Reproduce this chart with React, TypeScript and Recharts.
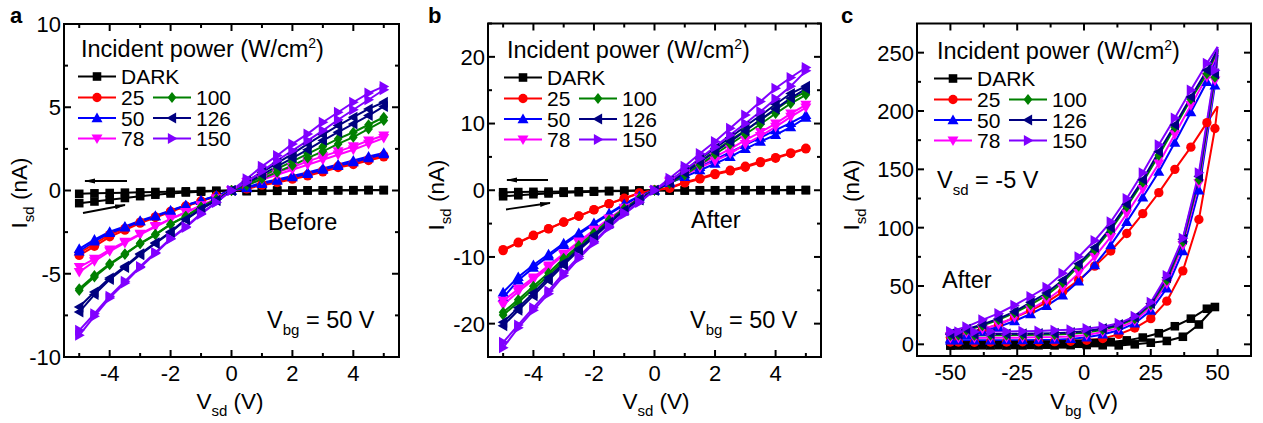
import React from "react";
import { LineChart, Line, XAxis, YAxis, ReferenceArea, Legend } from "recharts";

const FONT = "'Liberation Sans', Arial, Helvetica, sans-serif";
const H = 423;

// series: DARK and incident power (W/cm2)
const SERIES = ["DARK", "25", "50", "78", "100", "126", "150"];
const COLORS = ["#000000", "#ff0000", "#0000ff", "#ff00ff", "#008000", "#000080", "#8000ff"];
const SHAPES = ["square", "circle", "up", "down", "diamond", "left", "right"];

// panel a / b: sweep of Vsd (V)
const VSD = [-5, -4.5, -4, -3.5, -3, -2.5, -2, -1.5, -1, -0.5, 0, 0.5, 1, 1.5, 2, 2.5, 3, 3.5, 4, 4.5, 5];

// panel a, Isd (nA), before
const A_FWD = [
  [-0.76, -0.66, -0.56, -0.45, -0.34, -0.25, -0.18, -0.12, -0.07, -0.03, 0, -0.04, -0.03, -0.02, -0.01, 0, 0, 0.01, 0.01, 0.02, 0.02],
  [-3.9, -3.35, -2.78, -2.38, -1.96, -1.62, -1.28, -0.95, -0.65, -0.34, 0, 0.1, 0.32, 0.48, 0.68, 0.88, 1.12, 1.38, 1.56, 1.8, 2.02],
  [-3.65, -3.05, -2.55, -2.22, -1.86, -1.56, -1.22, -0.9, -0.62, -0.32, 0, 0.15, 0.4, 0.6, 0.8, 1.0, 1.25, 1.48, 1.7, 1.95, 2.18],
  [-4.9, -4.25, -3.65, -3.15, -2.65, -2.18, -1.72, -1.32, -0.92, -0.5, 0, 0.35, 0.65, 0.95, 1.25, 1.55, 1.85, 2.15, 2.45, 2.8, 3.15],
  [-6.0, -5.2, -4.46, -3.84, -3.2, -2.66, -2.04, -1.56, -1.0, -0.54, 0, 0.3, 0.7, 1.1, 1.5, 1.95, 2.35, 2.8, 3.2, 3.7, 4.2],
  [-7.3, -6.25, -5.35, -4.62, -3.86, -3.18, -2.52, -1.76, -1.12, -0.6, 0, 0.45, 0.95, 1.45, 1.95, 2.45, 3.0, 3.5, 4.0, 4.5, 5.05],
  [-8.7, -7.55, -6.45, -5.55, -4.62, -3.78, -2.92, -2.22, -1.42, -0.72, 0, 0.5, 1.15, 1.8, 2.4, 3.0, 3.6, 4.25, 4.85, 5.45, 6.05],
];
const A_BWD = [
  [-0.2, -0.17, -0.15, -0.13, -0.11, -0.09, -0.07, -0.05, -0.03, -0.02, 0, -0.02, -0.01, 0, 0, 0.01, 0.01, 0.02, 0.02, 0.03, 0.03],
  [-3.75, -3.2, -2.65, -2.28, -1.9, -1.58, -1.25, -0.93, -0.63, -0.33, 0, 0.14, 0.38, 0.55, 0.75, 0.95, 1.2, 1.46, 1.64, 1.88, 2.1],
  [-3.5, -2.95, -2.48, -2.16, -1.82, -1.52, -1.2, -0.88, -0.6, -0.31, 0, 0.2, 0.46, 0.66, 0.88, 1.08, 1.33, 1.56, 1.8, 2.04, 2.26],
  [-4.6, -4.1, -3.55, -3.08, -2.6, -2.14, -1.7, -1.3, -0.9, -0.49, 0, 0.5, 0.8, 1.1, 1.4, 1.75, 2.05, 2.35, 2.65, 3.0, 3.3],
  [-5.9, -5.1, -4.4, -3.8, -3.17, -2.63, -2.02, -1.54, -0.99, -0.53, 0, 0.4, 0.85, 1.3, 1.75, 2.2, 2.65, 3.1, 3.5, 3.95, 4.4],
  [-7.0, -6.1, -5.25, -4.55, -3.8, -3.14, -2.48, -1.72, -1.1, -0.58, 0, 0.55, 1.1, 1.65, 2.2, 2.8, 3.35, 3.9, 4.4, 4.9, 5.3],
  [-8.4, -7.4, -6.35, -5.45, -4.56, -3.72, -2.88, -2.18, -1.38, -0.7, 0, 0.7, 1.45, 2.1, 2.8, 3.4, 4.1, 4.7, 5.3, 5.85, 6.25],
];

// panel b, Isd (nA), after
const B_FWD = [
  [-0.9, -0.75, -0.6, -0.48, -0.38, -0.3, -0.22, -0.15, -0.1, -0.05, 0, -0.05, -0.04, -0.03, -0.02, -0.01, 0, 0, 0.01, 0.01, 0.02],
  [-9.05, -7.9, -6.8, -5.8, -4.8, -3.9, -2.95, -2.05, -1.25, -0.45, 0, 0.3, 1.1, 1.7, 2.35, 2.9, 3.45, 4.15, 4.8, 5.5, 6.2],
  [-16.1, -13.5, -11.6, -9.9, -8.2, -6.6, -5.1, -3.6, -2.2, -0.95, 0, 1.1, 2.0, 3.0, 4.0, 5.0, 6.2, 7.3, 8.3, 9.45, 10.9],
  [-17.2, -15.2, -13.4, -11.6, -9.7, -7.9, -6.1, -4.4, -2.8, -1.25, 0, 1.2, 2.3, 3.4, 4.4, 5.5, 6.9, 8.1, 9.5, 11.0, 12.4],
  [-18.7, -16.8, -14.8, -12.8, -10.5, -8.6, -6.6, -4.6, -2.9, -1.3, 0, 1.0, 2.3, 3.8, 5.4, 6.9, 8.4, 9.9, 11.5, 13.0, 14.3],
  [-20.3, -18.0, -15.8, -13.5, -11.2, -9.0, -7.0, -5.0, -3.05, -1.45, 0, 1.1, 2.6, 4.2, 5.8, 7.3, 8.9, 10.6, 12.2, 13.8, 15.2],
  [-23.6, -20.6, -18.0, -15.5, -12.8, -10.25, -7.9, -5.6, -3.6, -1.85, 0, 1.4, 3.0, 4.8, 6.5, 8.3, 10.0, 11.8, 13.7, 15.6, 17.9],
];
const B_BWD = [
  [-0.3, -0.27, -0.24, -0.21, -0.18, -0.15, -0.12, -0.09, -0.06, -0.03, 0, -0.02, -0.01, 0, 0, 0.01, 0.01, 0.02, 0.02, 0.03, 0.03],
  [-8.9, -7.8, -6.75, -5.75, -4.75, -3.85, -2.9, -2.0, -1.2, -0.4, 0, 0.4, 1.2, 1.8, 2.5, 3.0, 3.6, 4.3, 4.9, 5.6, 6.3],
  [-15.3, -13.0, -11.2, -9.6, -7.95, -6.4, -4.9, -3.45, -2.05, -0.85, 0, 1.3, 2.4, 3.5, 4.6, 5.7, 6.8, 7.9, 9.0, 10.1, 11.3],
  [-16.6, -14.8, -13.1, -11.3, -9.5, -7.7, -5.95, -4.25, -2.65, -1.15, 0, 1.4, 2.6, 3.8, 5.0, 6.2, 7.5, 8.7, 10.0, 11.5, 12.8],
  [-18.3, -16.4, -14.4, -12.4, -10.2, -8.3, -6.4, -4.45, -2.75, -1.2, 0, 1.3, 2.8, 4.3, 5.9, 7.5, 9.0, 10.5, 12.1, 13.6, 14.8],
  [-19.8, -17.6, -15.4, -13.1, -10.9, -8.8, -6.8, -4.8, -2.95, -1.35, 0, 1.4, 3.0, 4.7, 6.3, 7.9, 9.6, 11.2, 12.9, 14.5, 15.6],
  [-22.8, -20.2, -17.6, -15.1, -12.4, -9.95, -7.7, -5.4, -3.4, -1.75, 0, 1.8, 3.6, 5.5, 7.3, 9.3, 11.3, 13.3, 15.3, 16.9, 18.4],
];

// panel c: sweep of Vbg (V), Isd (nA) at Vsd = -5 V
const VBG_FWD = [-50, -47, -41, -35, -29, -23, -17, -11, -5, 1, 7, 13, 19, 25, 31, 37, 43, 49, 50];
const C_FWD = [
  [-0.9, -1, -1, -0.9, -1, -0.9, -0.8, -0.9, -0.7, -0.6, -0.8, -0.9, 0, 1.4, 2.9, 6.5, 17, 32, 34],
  [2, 2, 1.8, 2, 2, 2.2, 2.2, 2.3, 2.6, 3.5, 5, 8.5, 14, 22, 37, 63, 107, 185, 204],
  [3.4, 3.5, 3.4, 3.5, 3.6, 3.6, 3.8, 4, 4.6, 6, 8.5, 12, 18, 29, 48, 80, 132, 222, 248],
  [5.4, 5.5, 5.4, 5.6, 5.6, 5.8, 6, 6.2, 6.8, 8, 10.5, 14, 20, 32, 52, 85, 138, 226, 250],
  [7.6, 7.7, 7.6, 7.8, 7.8, 8, 8.2, 8.5, 9, 10.2, 12.5, 16, 22, 34, 55, 88, 141, 229, 252],
  [8.6, 8.7, 8.6, 8.8, 8.9, 9, 9.3, 9.6, 10.2, 11.5, 13.5, 17, 23, 35, 57, 90, 144, 232, 253],
  [10.6, 10.8, 10.7, 10.9, 11, 11.2, 11.5, 12, 12.6, 13.5, 15, 18, 24, 36, 59, 91, 147, 235, 255],
];
const VBG_BWD = [50, 46, 40, 34, 28, 22, 16, 10, 4, -2, -8, -14, -20, -26, -32, -38, -44, -50];
const C_BWD = [
  [34, 30.5, 22, 15.5, 9.5, 5.8, 3.4, 2, 1.1, 0.5, 0, -0.3, -0.5, -0.6, -0.7, -0.8, -0.9, -1],
  [204, 190, 169, 150, 130, 112, 95, 80, 67, 55, 45, 36, 29, 23, 17, 13, 9, 6],
  [248, 225, 199, 173, 148, 126, 105, 85, 68, 54, 42, 33, 26, 20, 15, 11, 8, 5],
  [250, 229, 205, 180, 155, 133, 112, 92, 75, 61, 48, 38, 30, 23, 17, 13, 10, 7],
  [252, 232, 210, 186, 162, 139, 118, 98, 81, 67, 53, 42, 34, 27, 21, 16, 12, 8],
  [253, 235, 212, 188, 165, 141, 120, 100, 83, 69, 55, 44, 36, 28, 22, 17, 13, 9],
  [255, 241, 218, 194, 171, 147, 125, 105, 89, 75, 61, 49, 41, 33.5, 26.5, 21, 15, 11],
];

// ticks
const AB_XTICKS = [-5, -4, -3, -2, -1, 0, 1, 2, 3, 4, 5];
const AB_XLABELS = [-4, -2, 0, 2, 4];
const A_YTICKS = [-10, -7.5, -5, -2.5, 0, 2.5, 5, 7.5, 10];
const A_YLABELS = [-10, -5, 0, 5, 10];
const B_YTICKS = [-25, -20, -15, -10, -5, 0, 5, 10, 15, 20, 25];
const B_YLABELS = [-20, -10, 0, 10, 20];
const C_XTICKS = [-50, -37.5, -25, -12.5, 0, 12.5, 25, 37.5, 50];
const C_XLABELS = [-50, -25, 0, 25, 50];
const C_YTICKS = [0, 25, 50, 75, 100, 125, 150, 175, 200, 225, 250];
const C_YLABELS = [0, 50, 100, 150, 200, 250];

const toPts = (xs: number[], ys: number[]) => xs.map((x, i) => ({ x, y: ys[i] }));

const Marker = ({ cx, cy, shape, color, s = 11 }: any) => {
  const r = s / 2;
  switch (shape) {
    case "square": {
      const h = r * 0.78;
      return <rect x={cx - h} y={cy - h} width={2 * h} height={2 * h} fill={color} />;
    }
    case "circle":
      return <circle cx={cx} cy={cy} r={r * 0.85} fill={color} />;
    case "up":
      return <polygon points={`${cx},${cy - r} ${cx + r},${cy + r * 0.75} ${cx - r},${cy + r * 0.75}`} fill={color} />;
    case "down":
      return <polygon points={`${cx},${cy + r} ${cx + r},${cy - r * 0.75} ${cx - r},${cy - r * 0.75}`} fill={color} />;
    case "diamond":
      return <polygon points={`${cx},${cy - r} ${cx + r * 0.8},${cy} ${cx},${cy + r} ${cx - r * 0.8},${cy}`} fill={color} />;
    case "left":
      return <polygon points={`${cx - r},${cy} ${cx + r * 0.75},${cy - r} ${cx + r * 0.75},${cy + r}`} fill={color} />;
    default:
      return <polygon points={`${cx + r},${cy} ${cx - r * 0.75},${cy - r} ${cx - r * 0.75},${cy + r}`} fill={color} />;
  }
};

const LEG_ROW = [0, 1, 2, 3, 1, 2, 3];
const LEG_COL = [0, 0, 0, 0, 1, 1, 1];
const LEG_BASE = [51, 72, 92.5, 113];

const LegendBox = () => (
  <svg width={290} height={125} style={{ overflow: "visible", display: "block" }}>
    <text x={3} y={24} fontSize={23.5} fontFamily={FONT}>
      Incident power (W/cm<tspan fontSize={14} dy={-9}>2</tspan>
      <tspan dy={9}>)</tspan>
    </text>
    {SERIES.map((name, i) => {
      const x0 = LEG_COL[i] === 0 ? 0 : 75;
      const yb = LEG_BASE[LEG_ROW[i]];
      const ym = yb - 7.5;
      return (
        <g key={name}>
          <line x1={x0} y1={ym} x2={x0 + 38} y2={ym} stroke={COLORS[i]} strokeWidth={2} />
          <Marker cx={x0 + 19} cy={ym} shape={SHAPES[i]} color={COLORS[i]} />
          <text x={x0 + 43} y={yb} fontSize={21} fontFamily={FONT}>
            {name}
          </text>
        </g>
      );
    })}
  </svg>
);

type PanelProps = {
  left: number;
  width: number;
  plot: { l: number; t: number; r: number; b: number };
  xDomain: [number, number];
  yDomain: [number, number];
  xTicks: number[];
  xLabels: number[];
  yTicks: number[];
  yLabels: number[];
  branches: { xs: number[]; rows: number[][] }[];
  legendAt: [number, number];
  noMarkAt?: number;
};

const Panel = (p: PanelProps) => {
  const pw = p.plot.r - p.plot.l;
  const ph = p.plot.b - p.plot.t;

  const xTick = (t: any) => {
    const v = t.payload.value;
    const major = p.xLabels.includes(v);
    const len = major ? 7 : 4;
    return (
      <g key={`xt${v}`}>
        <line x1={t.x} y1={t.y} x2={t.x} y2={t.y - len} stroke="#000" strokeWidth={2} />
        <line x1={t.x} y1={t.y - ph} x2={t.x} y2={t.y - ph + len} stroke="#000" strokeWidth={2} />
        {major && (
          <text x={t.x} y={t.y + 24} textAnchor="middle" fontSize={22} fontFamily={FONT} fill="#000">
            {v}
          </text>
        )}
      </g>
    );
  };

  const yTick = (t: any) => {
    const v = t.payload.value;
    const major = p.yLabels.includes(v);
    const len = major ? 7 : 4;
    return (
      <g key={`yt${v}`}>
        <line x1={t.x} y1={t.y} x2={t.x + len} y2={t.y} stroke="#000" strokeWidth={2} />
        <line x1={t.x + pw} y1={t.y} x2={t.x + pw - len} y2={t.y} stroke="#000" strokeWidth={2} />
        {major && (
          <text x={t.x - 3} y={t.y} dy="0.36em" textAnchor="end" fontSize={22} fontFamily={FONT} fill="#000">
            {v}
          </text>
        )}
      </g>
    );
  };

  const lines: React.ReactNode[] = [];
  SERIES.forEach((name, s) => {
    p.branches.forEach((br, bi) => {
      const dot = (d: any) =>
        p.noMarkAt !== undefined && d.payload.x === p.noMarkAt ? (
          <g key={`d${d.index}`} />
        ) : (
          <Marker key={`d${d.index}`} cx={d.cx} cy={d.cy} shape={SHAPES[s]} color={COLORS[s]} />
        );
      lines.push(
        <Line
          key={`${name}-${bi}`}
          data={toPts(br.xs, br.rows[s])}
          dataKey="y"
          name={name}
          stroke={COLORS[s]}
          strokeWidth={2}
          dot={dot}
          activeDot={false}
          isAnimationActive={false}
          legendType={bi === 0 ? "line" : "none"}
        />
      );
    });
  });

  return (
    <div style={{ position: "absolute", left: p.left, top: 0, width: p.width, height: H }}>
      <LineChart
        width={p.width}
        height={H}
        margin={{
          top: p.plot.t,
          right: p.left + p.width - p.plot.r,
          bottom: H - p.plot.b - 1,
          left: p.plot.l - p.left - 1,
        }}
      >
        <XAxis
          type="number"
          dataKey="x"
          domain={p.xDomain}
          ticks={p.xTicks}
          interval={0}
          allowDataOverflow
          height={1}
          axisLine={false}
          tickLine={false}
          tickSize={0}
          tickMargin={0}
          tick={xTick}
        />
        <YAxis
          type="number"
          dataKey="y"
          domain={p.yDomain}
          ticks={p.yTicks}
          interval={0}
          allowDataOverflow
          width={1}
          axisLine={false}
          tickLine={false}
          tickSize={0}
          tickMargin={0}
          tick={yTick}
        />
        <ReferenceArea
          x1={p.xDomain[0]}
          x2={p.xDomain[1]}
          y1={p.yDomain[0]}
          y2={p.yDomain[1]}
          fill="none"
          stroke="#000"
          strokeWidth={2}
          ifOverflow="visible"
        />
        {lines}
        <Legend
          layout="horizontal"
          verticalAlign="middle"
          align="center"
          content={() => <LegendBox />}
          wrapperStyle={{ left: p.legendAt[0] - p.left, top: p.legendAt[1], width: 290, height: 125 }}
        />
      </LineChart>
    </div>
  );
};

const Sub = ({ children }: { children: React.ReactNode }) => (
  <tspan fontSize={15} dy={7}>
    {children}
  </tspan>
);

export default function App() {
  return (
    <div
      style={{
        position: "absolute",
        left: 0,
        top: 0,
        width: 1263,
        height: H,
        background: "#fff",
        fontFamily: FONT,
      }}
    >
      <Panel
        left={0}
        width={420}
        plot={{ l: 64, t: 24, r: 399, b: 357 }}
        xDomain={[-5.5, 5.5]}
        yDomain={[-10, 10]}
        xTicks={AB_XTICKS}
        xLabels={AB_XLABELS}
        yTicks={A_YTICKS}
        yLabels={A_YLABELS}
        branches={[
          { xs: VSD, rows: A_FWD },
          { xs: VSD, rows: A_BWD },
        ]}
        legendAt={[78, 33]}
      />
      <Panel
        left={420}
        width={420}
        plot={{ l: 488, t: 23.5, r: 821, b: 357 }}
        xDomain={[-5.5, 5.5]}
        yDomain={[-25, 25]}
        xTicks={AB_XTICKS}
        xLabels={AB_XLABELS}
        yTicks={B_YTICKS}
        yLabels={B_YLABELS}
        branches={[
          { xs: VSD, rows: B_FWD },
          { xs: VSD, rows: B_BWD },
        ]}
        legendAt={[504, 34]}
      />
      <Panel
        left={840}
        width={423}
        plot={{ l: 917, t: 23.5, r: 1251, b: 356 }}
        xDomain={[-62.5, 62.5]}
        yDomain={[-10, 275]}
        xTicks={C_XTICKS}
        xLabels={C_XLABELS}
        yTicks={C_YTICKS}
        yLabels={C_YLABELS}
        branches={[
          { xs: VBG_FWD, rows: C_FWD },
          { xs: VBG_BWD, rows: C_BWD },
        ]}
        legendAt={[934, 35]}
        noMarkAt={50}
      />
      <svg
        width={1263}
        height={H}
        style={{ position: "absolute", left: 0, top: 0, pointerEvents: "none" }}
        fontFamily={FONT}
      >
        <defs>
          <marker id="arrowHead" markerWidth="11" markerHeight="6" refX="10" refY="3" orient="auto" markerUnits="userSpaceOnUse">
            <polygon points="0,0.5 11,3 0,5.5" fill="#000" />
          </marker>
        </defs>
        {/* panel letters */}
        <text x={10} y={23} fontSize={22} fontWeight="bold">a</text>
        <text x={428} y={23} fontSize={22} fontWeight="bold">b</text>
        <text x={841} y={23} fontSize={22} fontWeight="bold">c</text>

        {/* panel a */}
        <line x1={127} y1={181} x2={85} y2={181} stroke="#000" strokeWidth={1.8} markerEnd="url(#arrowHead)" />
        <line x1={83} y1={213} x2={125} y2={205} stroke="#000" strokeWidth={1.8} markerEnd="url(#arrowHead)" />
        <text x={268} y={230} fontSize={23.5}>Before</text>
        <text x={267} y={328} fontSize={23.5}>
          V<Sub>bg</Sub>
          <tspan dy={-7}> = 50 V</tspan>
        </text>
        <text x={230} y={409} fontSize={22.5} textAnchor="middle">
          V<Sub>sd</Sub>
          <tspan dy={-7}> (V)</tspan>
        </text>
        <text transform="translate(27,193) rotate(-90)" fontSize={22.5} textAnchor="middle">
          I<Sub>sd</Sub>
          <tspan dy={-7}> (nA)</tspan>
        </text>

        {/* panel b */}
        <line x1={548} y1={180} x2={507} y2={180} stroke="#000" strokeWidth={1.8} markerEnd="url(#arrowHead)" />
        <line x1={506} y1={209.5} x2={550} y2={203} stroke="#000" strokeWidth={1.8} markerEnd="url(#arrowHead)" />
        <text x={691} y={228} fontSize={23.5}>After</text>
        <text x={690} y={328} fontSize={23.5}>
          V<Sub>bg</Sub>
          <tspan dy={-7}> = 50 V</tspan>
        </text>
        <text x={656} y={409} fontSize={22.5} textAnchor="middle">
          V<Sub>sd</Sub>
          <tspan dy={-7}> (V)</tspan>
        </text>
        <text transform="translate(444,195) rotate(-90)" fontSize={22.5} textAnchor="middle">
          I<Sub>sd</Sub>
          <tspan dy={-7}> (nA)</tspan>
        </text>

        {/* panel c */}
        <text x={937} y={188} fontSize={23.5}>
          V<Sub>sd</Sub>
          <tspan dy={-7}> = -5 V</tspan>
        </text>
        <text x={942} y={288} fontSize={23.5}>After</text>
        <text x={1084} y={409} fontSize={22.5} textAnchor="middle">
          V<Sub>bg</Sub>
          <tspan dy={-7}> (V)</tspan>
        </text>
        <text transform="translate(859,195) rotate(-90)" fontSize={22.5} textAnchor="middle">
          I<Sub>sd</Sub>
          <tspan dy={-7}> (nA)</tspan>
        </text>
      </svg>
    </div>
  );
}
